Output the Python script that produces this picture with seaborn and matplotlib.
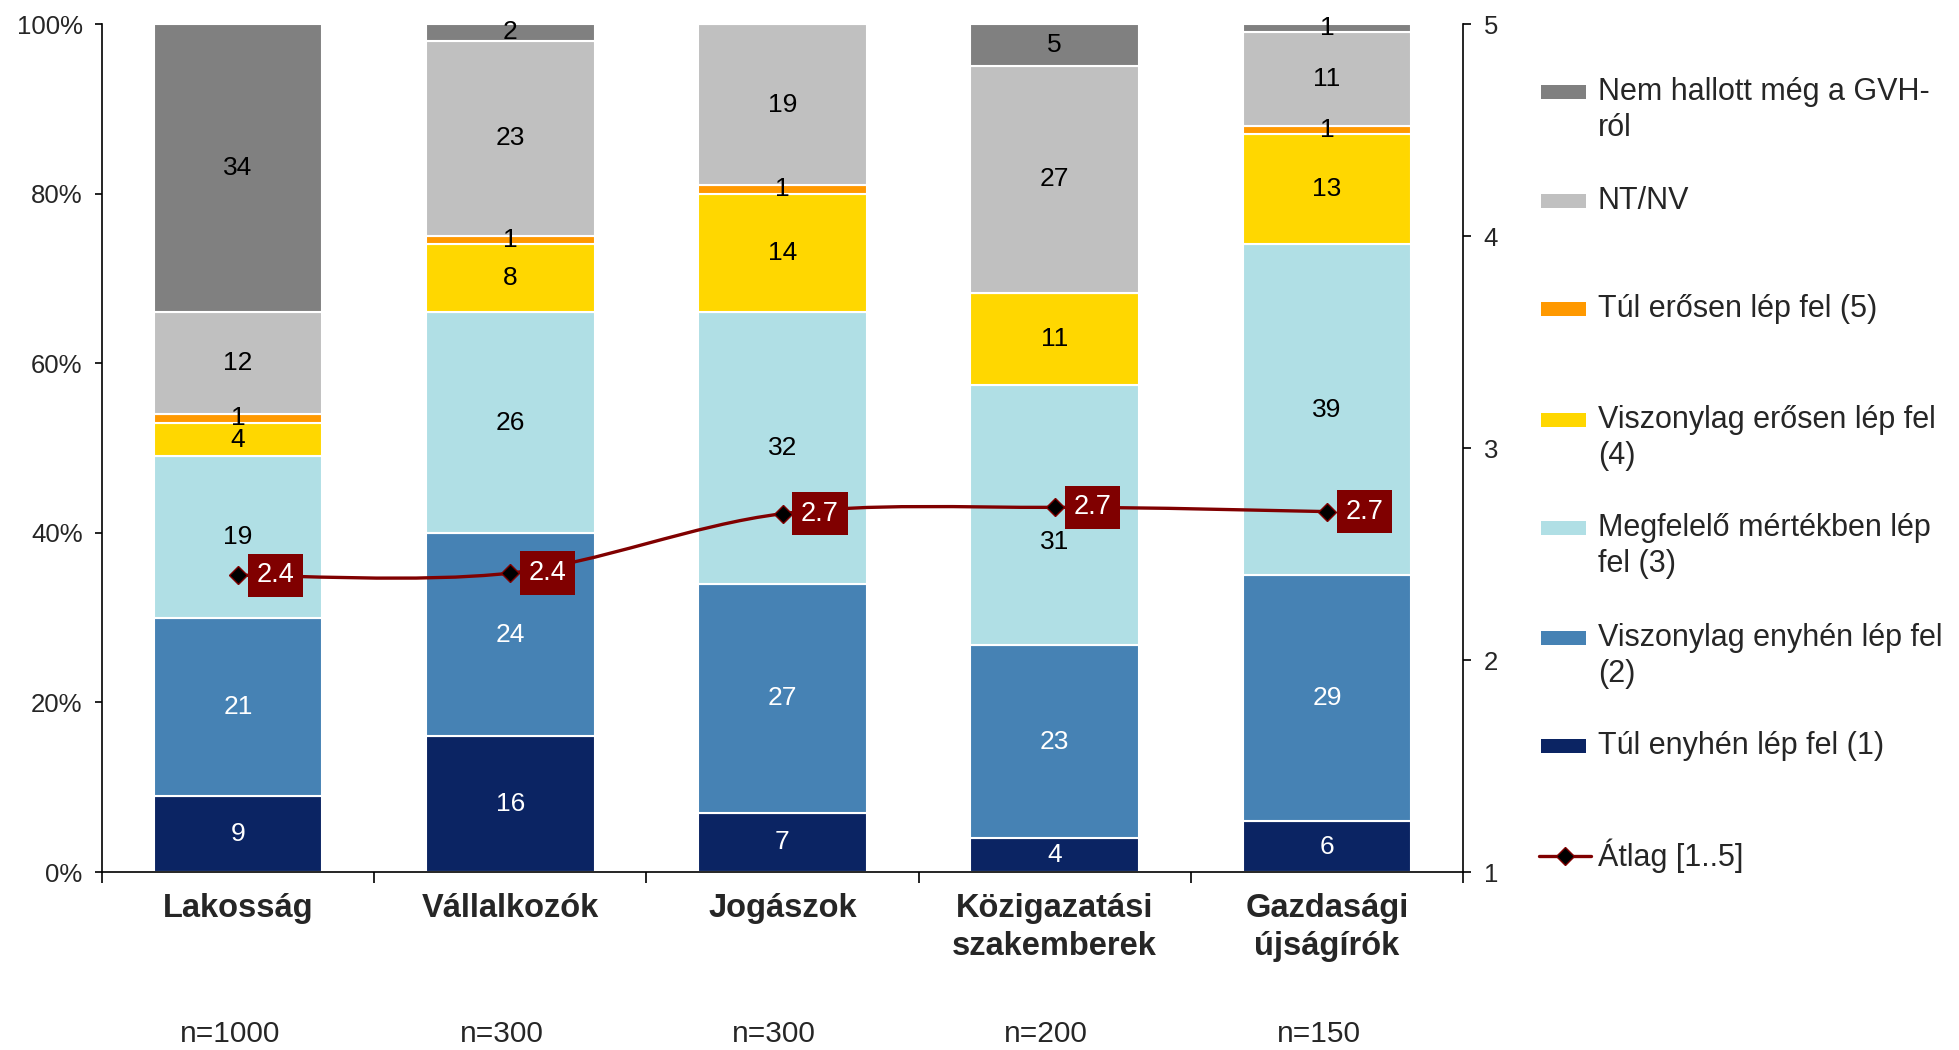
import numpy as np
import matplotlib
matplotlib.use('Agg')
import matplotlib.pyplot as plt
import seaborn as sns
from matplotlib.path import Path
from matplotlib.patches import PathPatch, Rectangle
from matplotlib.lines import Line2D

groups = ['Lakosság', 'Vállalkozók', 'Jogászok', 'Közigazatási\nszakemberek', 'Gazdasági\nújságírók']
sample_sizes = ['n=1000', 'n=300', 'n=300', 'n=200', 'n=150']

# stacked from bottom to top
tul_enyhen = [9, 16, 7, 4, 6]
visz_enyhen = [21, 24, 27, 23, 29]
megfelelo = [19, 26, 32, 31, 39]
visz_erosen = [4, 8, 14, 11, 13]
tul_erosen = [1, 1, 1, 0, 1]
nt_nv = [12, 23, 19, 27, 11]
nem_hallott = [34, 2, 0, 5, 1]
atlag = [2.40, 2.41, 2.69, 2.72, 2.70]

series_names = ['Túl enyhén lép fel (1)', 'Viszonylag enyhén lép fel\n(2)',
                'Megfelelő mértékben lép\nfel (3)', 'Viszonylag erősen lép fel\n(4)',
                'Túl erősen lép fel (5)', 'NT/NV', 'Nem hallott még a GVH-\nról']
layers = [tul_enyhen, visz_enyhen, megfelelo, visz_erosen, tul_erosen, nt_nv, nem_hallott]
colors = ['#0b2463', '#4682b4', '#b0dfe5', '#ffd700', '#ff9900', '#c0c0c0', '#808080']
label_colors = ['white', 'white', 'black', 'black', 'black', 'black', 'black']
line_color = '#800000'
# label nudged down so it does not sit under the average box
label_nudge = {(2, 3): -3.2}

sns.set_theme(style='ticks')
plt.rcParams['font.family'] = ['Liberation Sans', 'DejaVu Sans']

W, H = 1959, 1050
fig = plt.figure(figsize=(W / 100, H / 100), dpi=100)
ax = fig.add_axes([102 / W, 1 - 872 / H, 1361 / W, 848 / H])

totals = np.sum(np.array(layers), axis=0)
bottom = np.zeros(len(groups))
for k, (vals, color, tc) in enumerate(zip(layers, colors, label_colors)):
    pct = np.array(vals) / totals * 100
    sns.barplot(x=groups, y=pct, bottom=bottom, color=color, saturation=1, width=0.62,
                edgecolor='white', linewidth=1.5, errorbar=None, ax=ax)
    for i, v in enumerate(vals):
        if v > 0:
            ax.text(i, bottom[i] + pct[i] / 2 + label_nudge.get((k, i), 0), str(v),
                    ha='center', va='center', fontsize=19, color=tc)
    bottom = bottom + pct

ax.set_xlim(-0.5, len(groups) - 0.5)
ax.set_ylim(0, 100)
ax.set_yticks(range(0, 101, 20))
ax.set_yticklabels([f'{v}%' for v in range(0, 101, 20)], fontsize=18.5)
ax.set_xticks(range(len(groups)))
ax.set_xticklabels(groups, fontsize=23.5, fontweight='bold', linespacing=1.3)
ax.set_xticks(np.arange(-0.5, len(groups), 1), minor=True)
ax.tick_params(axis='x', which='major', length=0, pad=15)
ax.tick_params(axis='x', which='minor', length=8, width=1.2, color='black', direction='out')
ax.tick_params(axis='y', length=5, width=1.2, color='black', pad=9, direction='out')
ax.set_xlabel('')
ax.set_ylabel('')
for s in ['top', 'right']:
    ax.spines[s].set_visible(False)
for s in ['left', 'bottom']:
    ax.spines[s].set_color('black')
    ax.spines[s].set_linewidth(1.2)

for i, n in enumerate(sample_sizes):
    ax.annotate(n, (i, -0.191), xycoords=ax.get_xaxis_transform(), xytext=(-6, 0),
                textcoords='offset points', ha='center', va='center', fontsize=21.5)

ax2 = ax.twinx()
ax2.set_ylim(1, 5)
ax2.set_yticks(range(1, 6))
ax2.set_yticklabels([str(v) for v in range(1, 6)], fontsize=18.5)
ax2.tick_params(axis='y', length=6, width=1.2, color='black', pad=9, direction='out')
for s in ['top', 'left', 'bottom']:
    ax2.spines[s].set_visible(False)
ax2.spines['right'].set_color('black')
ax2.spines['right'].set_linewidth(1.2)

# smoothed line through the averages (Catmull-Rom style bezier)
xs = np.arange(len(groups), dtype=float)
ys = np.array(atlag)
pts = np.column_stack([xs, ys])
ext = np.vstack([pts[0], pts, pts[-1]])
verts = [pts[0]]
codes = [Path.MOVETO]
for i in range(len(pts) - 1):
    p0, p1, p2, p3 = ext[i], ext[i + 1], ext[i + 2], ext[i + 3]
    verts += [p1 + (p2 - p0) / 6, p2 - (p3 - p1) / 6, p2]
    codes += [Path.CURVE4] * 3
ax2.add_patch(PathPatch(Path(verts, codes), fill=False, edgecolor=line_color, lw=2.4))
ax2.plot(xs, ys, linestyle='none', marker='D', ms=9.5, mfc='black', mec=line_color, mew=1)
for x, y in zip(xs, ys):
    ax2.annotate(f'{y:.1f}', (x, y), xytext=(27, 0), textcoords='offset points',
                 ha='center', va='center', fontsize=19.5, color='white',
                 bbox=dict(boxstyle='square,pad=0.32', fc=line_color, ec='none'))

# legend (top to bottom)
leg_y = [92, 201, 309, 420, 528, 638, 746]
for yc, name, color in zip(leg_y, series_names[::-1], colors[::-1]):
    fig.add_artist(Rectangle((1541 / W, 1 - (yc + 7) / H), 45 / W, 14 / H,
                             transform=fig.transFigure, fc=color, ec='none'))
    for j, line in enumerate(name.split('\n')):
        fig.text(1598 / W, 1 - (yc + j * 36) / H, line, ha='left', va='center', fontsize=22)
yc = 856
fig.add_artist(Line2D([1539 / W, 1591 / W], [1 - yc / H] * 2, transform=fig.transFigure,
                      color=line_color, lw=2.4))
fig.add_artist(Line2D([1565 / W], [1 - yc / H], transform=fig.transFigure, marker='D', ms=9.5,
                      mfc='black', mec=line_color, mew=1))
fig.text(1598 / W, 1 - yc / H, 'Átlag [1..5]', ha='left', va='center', fontsize=22)

fig.savefig('out.png', dpi=100)
